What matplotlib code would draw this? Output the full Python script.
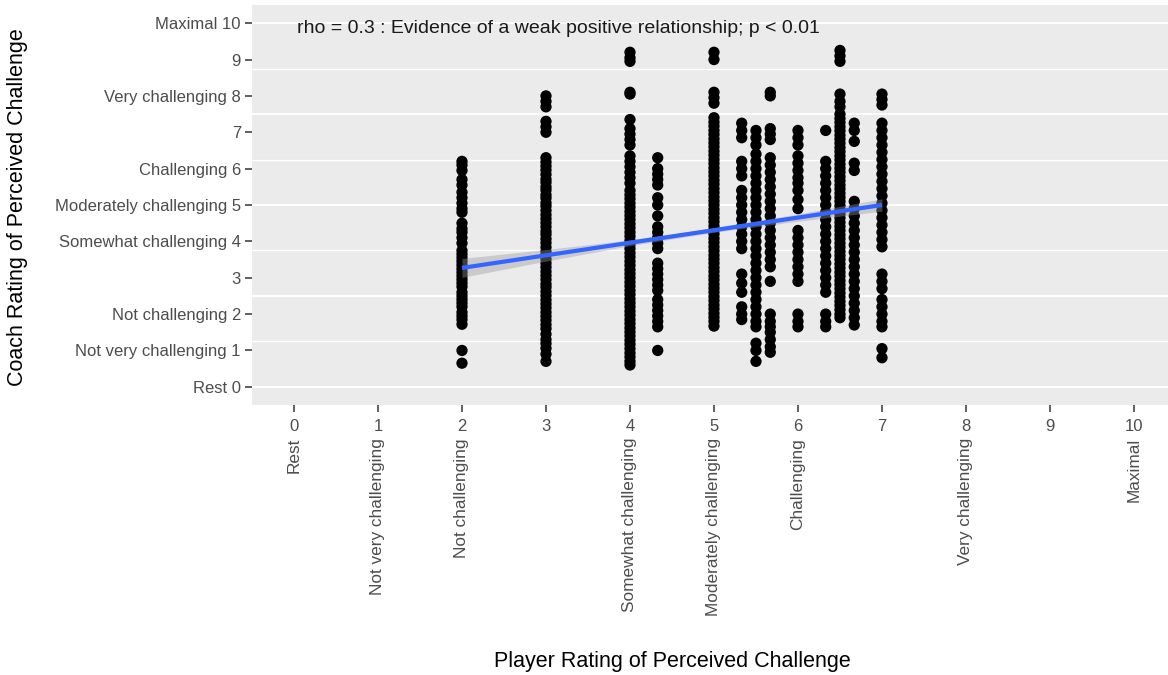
import numpy as np
import matplotlib
matplotlib.use("Agg")
import matplotlib.pyplot as plt
import matplotlib.transforms as mtransforms

plt.rcParams['font.family'] = ['Liberation Sans', 'DejaVu Sans']

# ---------------- data ----------------
tick_values = list(range(11))
tick_names = ["Rest", "Not very challenging", "Not challenging", "", "Somewhat challenging",
              "Moderately challenging", "Challenging", "", "Very challenging", "", "Maximal"]

col_x = [2, 3, 4, 4.33, 5, 5.33, 5.5, 5.67, 6, 6.33, 6.5, 6.67, 7]

y_2 = [6.2, 6.1, 5.95, 5.7, 5.55, 5.35, 5.2, 5.05, 4.9, 4.8, 4.5, 4.35, 4.25, 4.1, 3.95,
       3.75, 3.65, 3.55, 3.45, 3.35, 3.25, 3.15, 3.05, 2.95, 2.85, 2.75, 2.6, 2.5, 2.4,
       2.3, 2.2, 2.05, 1.95, 1.85, 1.72, 1.0, 0.65]
y_3 = [8.0, 7.85, 7.7, 7.3, 7.15, 7.0, 6.3, 6.18, 6.07, 5.96, 5.84, 5.71, 5.62, 5.5, 5.41,
       5.28, 5.19, 5.06, 4.97, 4.85, 4.73, 4.62, 4.51, 4.4, 4.28, 4.19, 4.07, 3.96, 3.84,
       3.72, 3.63, 3.51, 3.4, 3.29, 3.17, 3.06, 2.95, 2.83, 2.74, 2.62, 2.51, 2.39, 2.28,
       2.17, 2.05, 1.94, 1.83, 1.71, 1.6, 1.45, 1.3, 1.19, 1.06, 0.9, 0.7]
y_4 = [9.2, 9.05, 8.95, 8.1, 8.05, 7.35, 7.1, 6.95, 6.8, 6.65, 6.35, 6.2, 6.05, 5.9, 5.75,
       5.6, 5.4, 5.28, 5.17, 5.05, 4.94, 4.82, 4.71, 4.6, 4.48, 4.37, 4.25, 4.14, 4.02,
       3.91, 3.8, 3.68, 3.57, 3.45, 3.34, 3.22, 3.11, 3.0, 2.88, 2.77, 2.65, 2.54, 2.42,
       2.31, 2.2, 2.08, 1.97, 1.85, 1.74, 1.62, 1.51, 1.4, 1.28, 1.17, 1.05, 0.93, 0.82,
       0.7, 0.6]
y_433 = [6.3, 6.0, 5.85, 5.7, 5.55, 5.2, 5.0, 4.7, 4.4, 4.25, 4.1, 3.95, 3.8, 3.4, 3.25,
         3.1, 2.95, 2.8, 2.65, 2.4, 2.25, 2.1, 1.95, 1.8, 1.65, 1.0]
y_5 = [9.2, 9.0, 8.1, 7.95, 7.8, 7.4, 7.28, 7.17, 7.05, 6.94, 6.82, 6.71, 6.6, 6.48,
       6.37, 6.25, 6.14, 6.02, 5.91, 5.8, 5.68, 5.57, 5.45, 5.34, 5.22, 5.11, 5.0, 4.88,
       4.77, 4.65, 4.54, 4.42, 4.31, 4.2, 4.08, 3.97, 3.85, 3.74, 3.62, 3.51, 3.4, 3.28,
       3.17, 3.05, 2.94, 2.82, 2.71, 2.6, 2.48, 2.37, 2.25, 2.14, 2.02, 1.91, 1.8, 1.67]
y_533 = [7.25, 7.05, 6.85, 6.2, 6.0, 5.8, 5.4, 5.2, 5.0, 4.8, 4.6, 4.4, 4.2, 4.0, 3.8,
         3.1, 2.85, 2.6, 2.2, 2.0, 1.85]
y_55 = [7.05, 6.85, 6.65, 6.4, 6.2, 6.0, 5.8, 5.6, 5.4, 5.2, 5.0, 4.8, 4.6, 4.4, 4.2,
        4.0, 3.8, 3.6, 3.4, 3.2, 3.0, 2.8, 2.6, 2.4, 2.2, 2.0, 1.8, 1.65, 1.2, 1.0, 0.7]
y_567 = [8.1, 8.0, 7.1, 6.95, 6.8, 6.3, 6.1, 5.9, 5.7, 5.5, 5.3, 5.1, 4.9, 4.7, 4.5, 4.3,
         4.1, 3.9, 3.7, 3.5, 3.3, 2.9, 2.0, 1.8, 1.65, 1.5, 1.3, 1.1, 0.95]
y_6 = [7.05, 6.85, 6.65, 6.35, 6.15, 5.95, 5.75, 5.6, 5.4, 5.15, 4.9, 4.3, 4.1, 3.9, 3.7,
       3.5, 3.3, 3.1, 2.9, 2.0, 1.8, 1.65]
y_633 = [7.05, 6.2, 6.0, 5.8, 5.6, 5.4, 5.2, 5.0, 4.8, 4.6, 4.4, 4.2, 4.0, 3.8, 3.6, 3.4,
         3.2, 3.0, 2.8, 2.6, 2.0, 1.8, 1.65]
y_65 = [9.25, 9.1, 8.95, 8.05, 7.85, 7.7, 7.5, 7.38, 7.27, 7.15, 7.04, 6.92, 6.81, 6.7,
        6.58, 6.47, 6.35, 6.24, 6.12, 6.01, 5.9, 5.78, 5.67, 5.55, 5.44, 5.32, 5.21, 5.1,
        4.98, 4.87, 4.75, 4.64, 4.52, 4.41, 4.3, 4.18, 4.07, 3.95, 3.84, 3.72, 3.61, 3.5,
        3.38, 3.27, 3.15, 3.04, 2.92, 2.81, 2.7, 2.58, 2.47, 2.35, 2.24, 2.12, 2.0, 1.9]
y_667 = [7.25, 7.05, 6.75, 6.15, 5.95, 5.1, 4.9, 4.7, 4.5, 4.3, 4.1, 3.9, 3.7, 3.5, 3.3,
         3.1, 2.9, 2.7, 2.5, 2.3, 2.1, 1.9, 1.7]
y_7 = [8.05, 7.9, 7.75, 7.25, 7.05, 6.85, 6.65, 6.45, 6.25, 6.05, 5.85, 5.65, 5.45, 5.25,
       5.05, 4.85, 4.65, 4.45, 4.25, 4.05, 3.85, 3.1, 2.9, 2.7, 2.4, 2.2, 2.0, 1.8, 1.65,
       1.05, 0.8]

col_y = [y_2, y_3, y_4, y_433, y_5, y_533, y_55, y_567, y_6, y_633, y_65, y_667, y_7]

# fitted line and its 95% CI half-width
fit_x = [2, 7]
fit_y = [3.27, 5.0]
ci_x = [2, 3, 4, 5, 6, 7]
ci_half = [0.26, 0.16, 0.08, 0.06, 0.1, 0.17]

annotation = "rho = 0.3 : Evidence of a weak positive relationship; p < 0.01"

# ---------------- figure ----------------
W, H = 1168, 675
fig = plt.figure(figsize=(W / 100, H / 100), dpi=100)
ax = fig.add_axes([252 / W, 1 - 405 / H, 1 - 252 / W, 400 / H])
ax.set_facecolor("#EBEBEB")
for s in ax.spines.values():
    s.set_visible(False)

ax.set_xlim(-0.5, 10.405)
ax.set_ylim(-0.5, 10.5)

for g in [0, 2.5, 5, 7.5, 10]:
    ax.axhline(g, color="white", lw=1.3, zorder=0)
for g in [1.25, 3.75, 6.25, 8.75]:
    ax.axhline(g, color="white", lw=1.0, zorder=0)

xs = np.concatenate([np.full(len(y), x) for x, y in zip(col_x, col_y)])
ys = np.concatenate([np.array(y, float) for y in col_y])
ax.scatter(xs, ys, s=66, color="black", edgecolors="none", zorder=3)

xf = np.linspace(fit_x[0], fit_x[1], 100)
yf = np.interp(xf, fit_x, fit_y)
hw = np.interp(xf, ci_x, ci_half)
ax.fill_between(xf, yf - hw, yf + hw, color="#999999", alpha=0.4, lw=0, zorder=4)
ax.plot(xf, yf, color="#3366FF", lw=3, zorder=5, solid_capstyle="butt")

ax.set_yticks(tick_values)
ylabels = [(f"{nm} {v}" if nm else f"{v}") for v, nm in zip(tick_values, tick_names)]
ax.set_yticklabels(ylabels, fontsize=12, color="#4D4D4D")
ax.set_xticks(tick_values)
ax.set_xticklabels([str(v) for v in tick_values], fontsize=12, color="#4D4D4D")
ax.tick_params(axis="both", length=5, width=1.1, color="#333333", pad=3)
ax.tick_params(axis="x", pad=5)

trans = mtransforms.blended_transform_factory(ax.transData, fig.transFigure)
for v, nm in zip(tick_values, tick_names):
    if nm:
        ax.text(v, 1 - 438 / H, nm, rotation=90, ha="center", va="top",
                fontsize=12.4, color="#4D4D4D", transform=trans, clip_on=False)

ax.text(0.04, 9.86, annotation, ha="left", va="center", fontsize=14,
        color="#1A1A1A", zorder=6)

fig.text(672 / W, 1 - 661 / H, "Player Rating of Perceived Challenge",
         ha="center", va="center", fontsize=15.5, color="black")
fig.text(18 / W, 1 - 207 / H, "Coach Rating of Perceived Challenge",
         ha="center", va="center", rotation=90, fontsize=15.5, color="black")

fig.savefig("out.png", dpi=100, facecolor="white")
